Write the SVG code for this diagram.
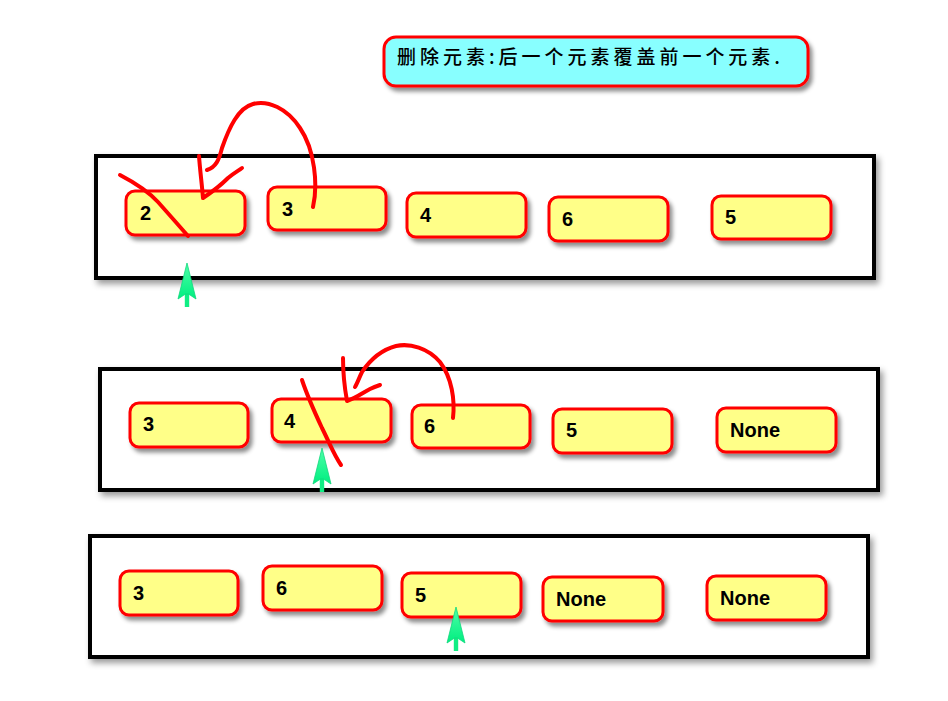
<svg xmlns="http://www.w3.org/2000/svg" width="948" height="701" viewBox="0 0 948 701">
  <defs>
    <filter id="shadow" x="-10%" y="-20%" width="130%" height="160%">
      <feDropShadow dx="3" dy="4" stdDeviation="2.2" flood-color="#000" flood-opacity="0.45"/>
    </filter>
    <filter id="frameShadow" x="-5%" y="-10%" width="110%" height="130%">
      <feDropShadow dx="3" dy="4" stdDeviation="3" flood-color="#000" flood-opacity="0.4"/>
    </filter>
    <linearGradient id="greenGrad" x1="0" y1="0" x2="0" y2="1">
      <stop offset="0" stop-color="#4dffa8"/>
      <stop offset="1" stop-color="#00ee80"/>
    </linearGradient>
    <!-- green pointer: tip at origin, pointing up -->
    <g id="pointer">
      <rect x="-2.2" y="30" width="4.4" height="14" fill="#10ee84"/>
      <path d="M0,0 L9,36 L1.5,31 L-1.5,31 L-9,36 Z" fill="url(#greenGrad)" stroke="#0fd87c" stroke-width="0.8" stroke-linejoin="round"/>
    </g>
  </defs>
  <style>
    .frame { fill: #fff; stroke: #000; stroke-width: 4; filter: url(#frameShadow); }
    .cell { fill: #ffff88; stroke: #ff0000; stroke-width: 3; filter: url(#shadow); }
    .val { font-family: "Liberation Sans", Arial, sans-serif; font-weight: bold; font-size: 20px; fill: #000; }
    .title-box { fill: #88ffff; stroke: #ff0000; stroke-width: 3; filter: url(#shadow); }
    .title { font-family: "Noto Sans CJK SC", "Noto Sans", sans-serif; font-size: 19px; font-weight: 500; fill: #000; }
    .ink { fill: none; stroke: #ff0000; stroke-width: 4; stroke-linecap: round; stroke-linejoin: round; }
  </style>

  <rect width="948" height="701" fill="#fff"/>

  <!-- heading -->
  <g id="title">
    <rect class="title-box" x="384" y="37" width="424" height="49" rx="12"/>
    <text class="title" x="397" y="64" textLength="383" lengthAdjust="spacing">删除元素:后一个元素覆盖前一个元素.</text>
  </g>

  <!-- frames -->
  <g id="row1-frame"><rect class="frame" x="96" y="156" width="778" height="122"/></g>
  <g id="row2-frame"><rect class="frame" x="100" y="369" width="778" height="121"/></g>
  <g id="row3-frame"><rect class="frame" x="90" y="536" width="778" height="121"/></g>

  <!-- row 1 -->
  <g id="r1c1"><rect class="cell" x="126" y="191" width="119" height="44" rx="9"/><text class="val" x="140" y="220">2</text></g>
  <g id="r1c2"><rect class="cell" x="268" y="187" width="118" height="43" rx="9"/><text class="val" x="282" y="216">3</text></g>
  <g id="r1c3"><rect class="cell" x="407" y="193" width="119" height="44" rx="9"/><text class="val" x="420" y="222">4</text></g>
  <g id="r1c4"><rect class="cell" x="549" y="197" width="119" height="44" rx="9"/><text class="val" x="562" y="226">6</text></g>
  <g id="r1c5"><rect class="cell" x="712" y="196" width="119" height="43" rx="9"/><text class="val" x="725" y="224">5</text></g>

  <!-- row 2 -->
  <g id="r2c1"><rect class="cell" x="130" y="403" width="118" height="44" rx="9"/><text class="val" x="143" y="431">3</text></g>
  <g id="r2c2"><rect class="cell" x="272" y="399" width="119" height="43" rx="9"/><text class="val" x="284" y="428">4</text></g>
  <g id="r2c3"><rect class="cell" x="412" y="405" width="118" height="43" rx="9"/><text class="val" x="424" y="433">6</text></g>
  <g id="r2c4"><rect class="cell" x="553" y="409" width="119" height="44" rx="9"/><text class="val" x="566" y="437">5</text></g>
  <g id="r2c5"><rect class="cell" x="717" y="408" width="119" height="44" rx="9"/><text class="val" x="730" y="437">None</text></g>

  <!-- row 3 -->
  <g id="r3c1"><rect class="cell" x="120" y="571" width="118" height="44" rx="9"/><text class="val" x="133" y="600">3</text></g>
  <g id="r3c2"><rect class="cell" x="263" y="566" width="119" height="44" rx="9"/><text class="val" x="276" y="595">6</text></g>
  <g id="r3c3"><rect class="cell" x="402" y="573" width="119" height="44" rx="9"/><text class="val" x="415" y="602">5</text></g>
  <g id="r3c4"><rect class="cell" x="543" y="577" width="120" height="44" rx="9"/><text class="val" x="556" y="606">None</text></g>
  <g id="r3c5"><rect class="cell" x="707" y="576" width="119" height="44" rx="9"/><text class="val" x="720" y="605">None</text></g>

  <!-- connectors: hand-drawn moves and position pointers -->
  <g id="connectors">
    <!-- row 1 -->
    <path class="ink" d="M120,175 Q145,188 158,202 Q174,220 188,236"/>
    <path class="ink" d="M313,207 C318,185 315,150 300,128 C287,108 268,100 253,104 C238,108 229,128 222,148 C219,160 216,167 207,170"/>
    <path class="ink" d="M199,156 C200,170 202,185 203,198 C212,192 222,184 228,178 C234,173 238,171 242,168"/>
    <use href="#pointer" x="187" y="263"/>

    <!-- row 2 -->
    <path class="ink" d="M302,380 C308,398 315,413 322,428 C330,444 334,455 341,465"/>
    <path class="ink" d="M453,418 C455,400 452,378 440,362 C428,348 410,343 396,346 C381,350 370,360 362,372 C359,378 357,384 355,387"/>
    <path class="ink" d="M343,358 C343,375 345,390 347,401 C356,398 364,392 370,389 C374,387 377,386 380,385"/>
    <use href="#pointer" x="322" y="448"/>

    <!-- row 3 -->
    <use href="#pointer" x="456" y="607"/>
  </g>
</svg>
